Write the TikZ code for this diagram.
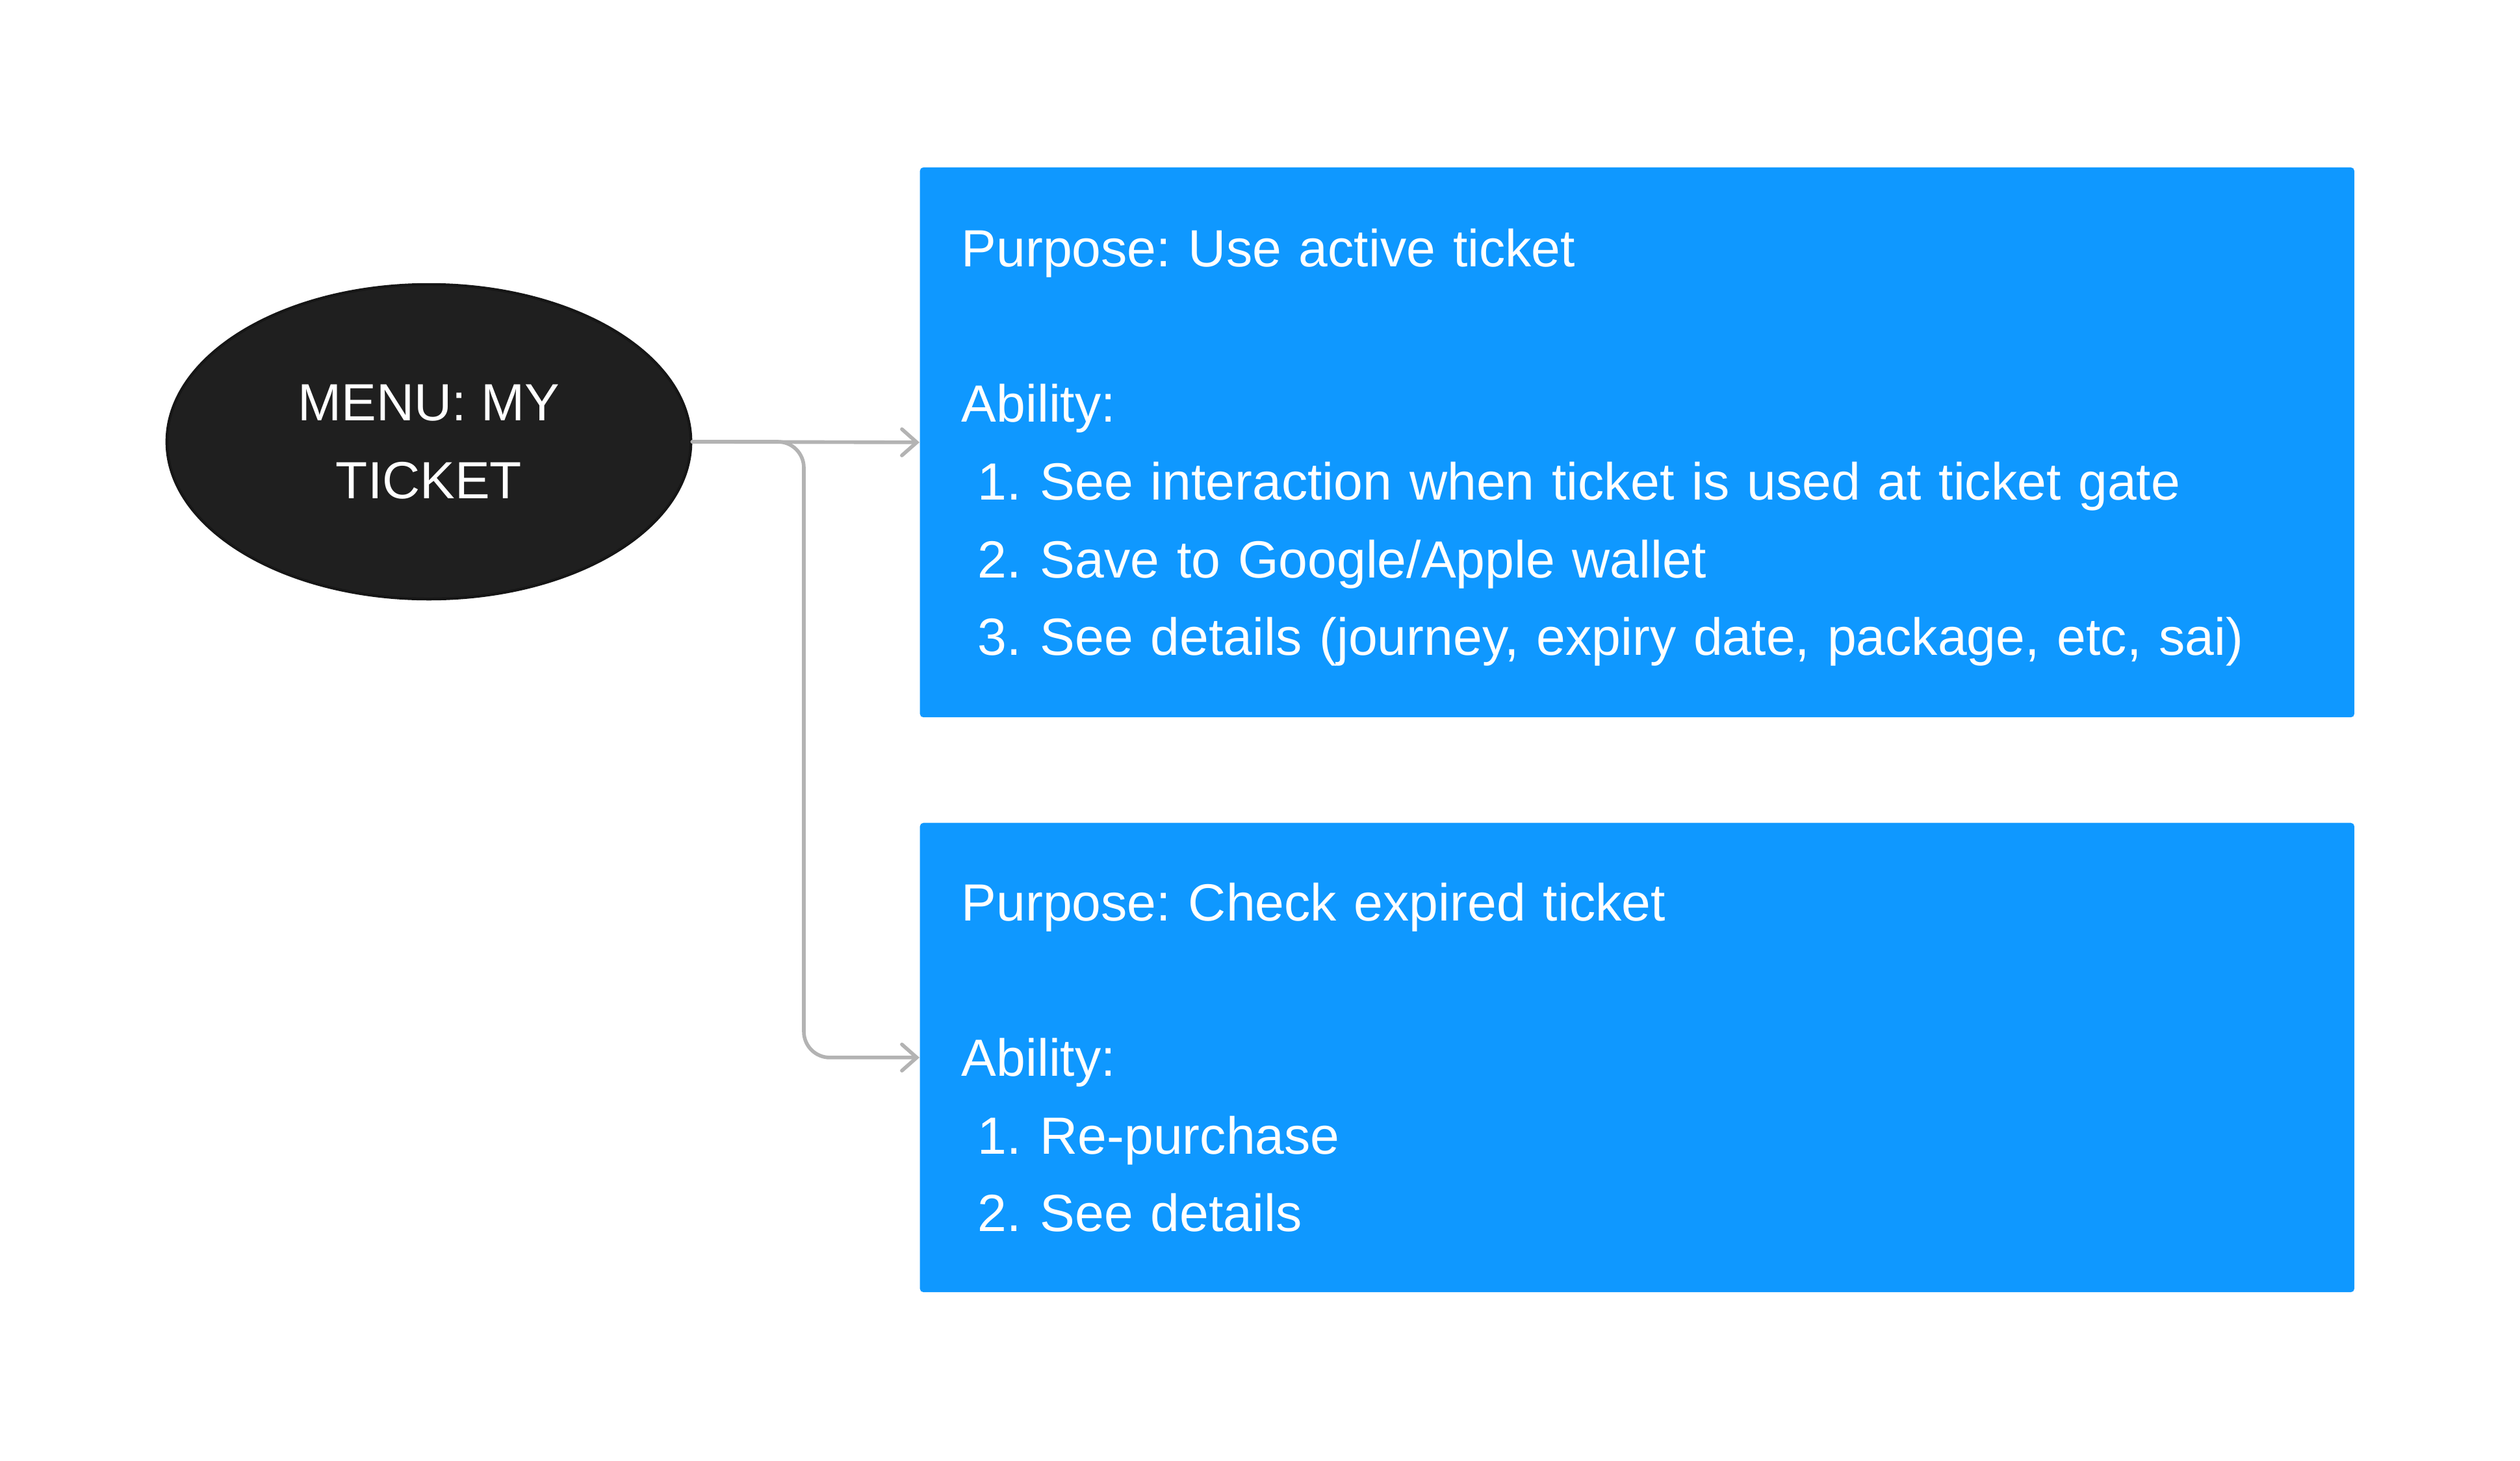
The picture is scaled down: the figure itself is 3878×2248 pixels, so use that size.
\documentclass[tikz,border=0pt]{standalone}
\usepackage{fontspec}
\setmainfont{Liberation Sans}
\usepackage{xcolor}
\usetikzlibrary{positioning,arrows.meta,shapes.geometric}
\definecolor{cInk}{HTML}{1F1F1F}
\definecolor{cEdge}{HTML}{161616}
\definecolor{cBlue}{HTML}{0F98FF}
\definecolor{cLine}{HTML}{B3B3B3}
\newcommand{\itm}[2]{\makebox[34.4pt][l]{\hspace*{7pt}#1.}#2}
\frenchspacing

\begin{document}
\begin{tikzpicture}[x=0.01cm,y=-0.01cm,
  font=\fontsize{22.9}{34}\selectfont,
  menu/.style={ellipse,fill=cInk,draw=cEdge,line width=1.2pt,text=white,
               align=center,minimum width=8.06cm,minimum height=4.84cm},
  card/.style={fill=cBlue,rounded corners=1.5pt,text=white,align=left,
               anchor=north west,minimum width=22.06cm,
               text width=20.78cm,inner xsep=0.64cm},
  ar/.style={line width=1.6pt,cLine,line cap=round,
             -{Straight Barb[length=6.5pt,width=11.5pt,line cap=round]}}]
\useasboundingbox (0,0) rectangle (3878,2248);
\node[menu] (menu) at (660,680) {MENU: MY\\TICKET};
\node[card,minimum height=8.46cm] (active) at (1415,257)
  {Purpose: Use active ticket\\[34pt]
   Ability:\\
   \itm{1}{See interaction when ticket is used at ticket gate}\\
   \itm{2}{Save to Google/Apple wallet}\\
   \itm{3}{\smash{See details (journey, expiry date, package, etc, sai)}}};
\node[card,minimum height=7.22cm] (expired) at (1415,1266)
  {Purpose: Check expired ticket\\[34pt]
   Ability:\\
   \itm{1}{Re-purchase}\\
   \itm{2}{See details}};
\coordinate (split) at (1237,680);
\draw[ar] (menu.east) -- (active.west);
\draw[ar,rounded corners=4mm] (menu.east) -| (split |- expired.west)
  -- (expired.west);
\end{tikzpicture}
\end{document}
